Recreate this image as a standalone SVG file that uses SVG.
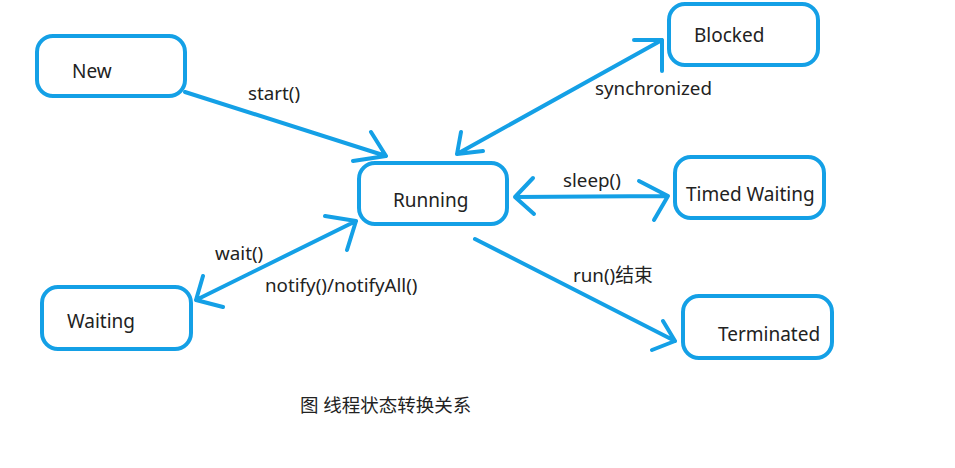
<svg xmlns="http://www.w3.org/2000/svg" width="955" height="468" viewBox="0 0 955 468">
<style>
.box{fill:#fff;stroke:#14a0e6;stroke-width:4}
.ln{fill:none;stroke:#14a0e6;stroke-width:4;stroke-linecap:round;stroke-linejoin:round}
text{font-family:"Noto Sans","Noto Sans CJK SC",sans-serif;font-size:19px;fill:#222}
.lbl{font-size:18.8px}
.cap{font-size:18.5px}
</style>
<rect width="955" height="468" fill="#fff"/>
<g id="new"><rect class="box" x="37" y="36" width="148" height="60" rx="16"/><text x="72" y="78">New</text></g>
<g id="running"><rect class="box" x="359" y="163" width="148" height="61" rx="16"/><text x="393" y="207">Running</text></g>
<g id="blocked"><rect class="box" x="669" y="4" width="149" height="61" rx="16"/><text x="694" y="42">Blocked</text></g>
<g id="timed"><rect class="box" x="675" y="157" width="149" height="61" rx="16"/><text x="686" y="201">Timed Waiting</text></g>
<g id="waiting"><rect class="box" x="42" y="287" width="149" height="62" rx="16"/><text x="67" y="328">Waiting</text></g>
<g id="terminated"><rect class="box" x="683" y="296" width="149" height="62" rx="16"/><text x="718" y="341">Terminated</text></g>
<g id="connectors">
<path class="ln" d="M185 92 L386 156 M371 132 L386 156 L353 161"/>
<path class="ln" d="M457 154 L662 40 M461 132 L457 154 L483 151 M634 40 L662 40 L662 71"/>
<path class="ln" d="M515 197 L668 196 M533 178 L515 197 L534 214 M639 181 L668 196 L654 220"/>
<path class="ln" d="M196 300 L356 221 M203 276 L196 300 L223 307 M325 216 L356 221 L347 250"/>
<path class="ln" d="M475 239 L675 341 M663 321 L675 341 L652 350"/>
</g>
<g id="labels">
<text class="lbl" x="248" y="100">start()</text>
<text class="lbl" x="595" y="95">synchronized</text>
<text class="lbl" x="563" y="187">sleep()</text>
<text class="lbl" x="215" y="260">wait()</text>
<text class="lbl" x="265" y="292">notify()/notifyAll()</text>
<text class="lbl" x="573" y="282">run()结束</text>
<text class="cap" x="300" y="412">图 线程状态转换关系</text>
</g>
</svg>
